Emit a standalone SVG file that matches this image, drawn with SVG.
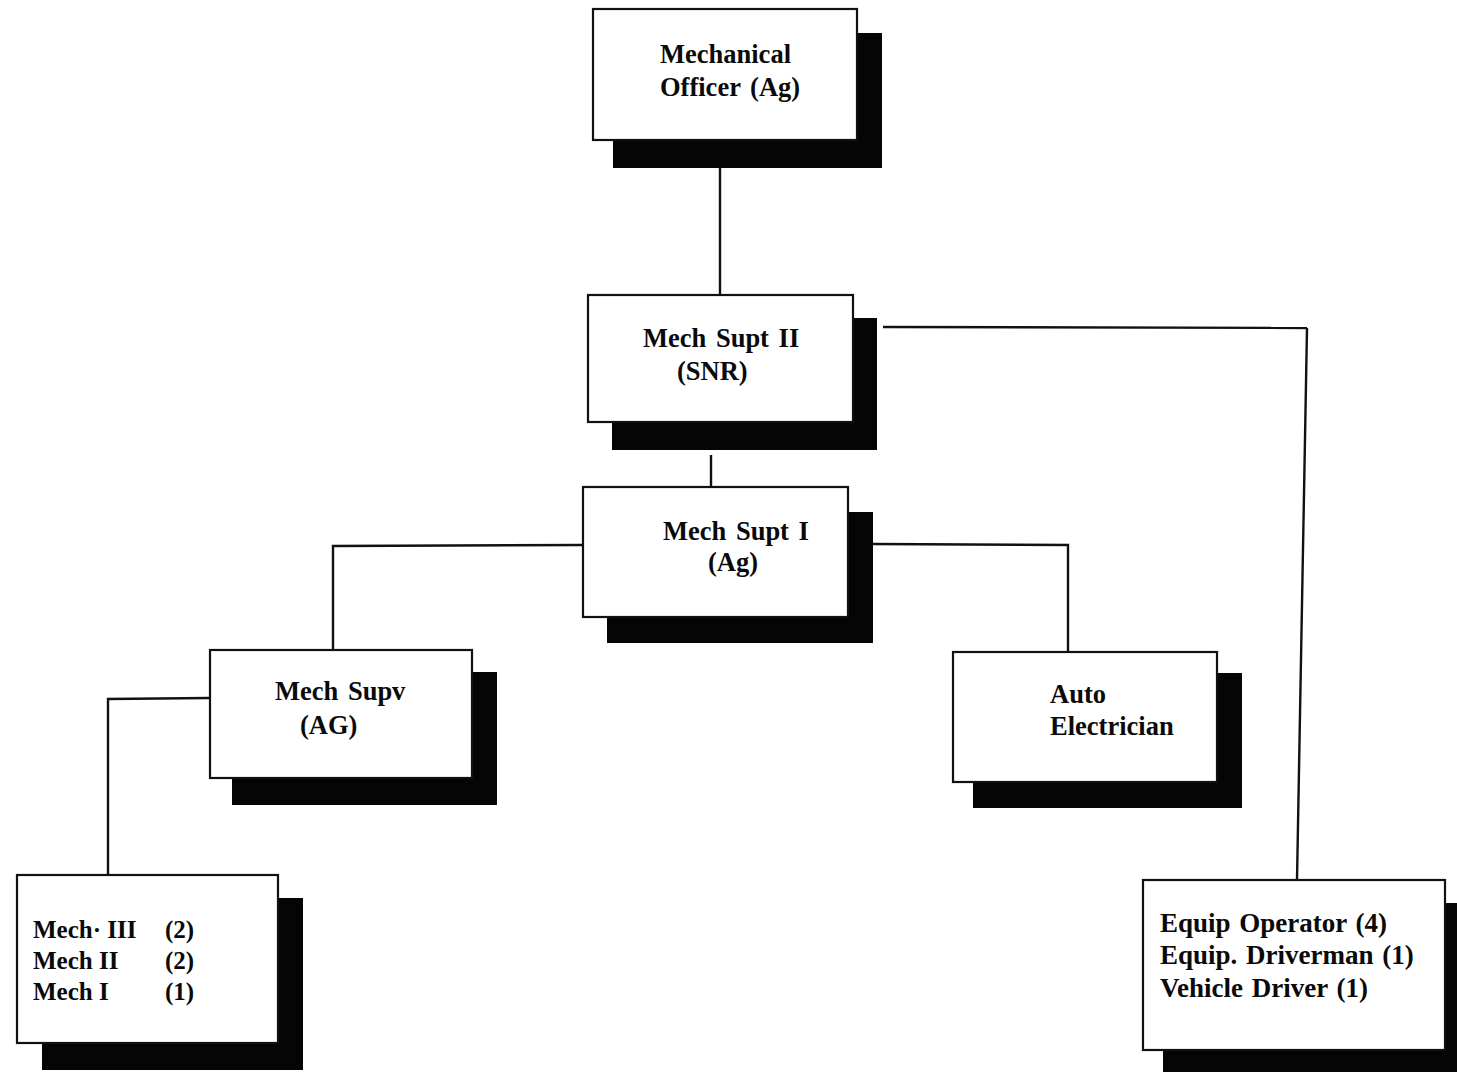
<svg xmlns="http://www.w3.org/2000/svg" width="1457" height="1072" viewBox="0 0 1457 1072">
  <style>
    .box { fill: #ffffff; stroke: #111111; stroke-width: 2.2; }
    .shadow { fill: #050505; }
    .label { font-family: "Liberation Serif", "Times New Roman", serif; font-weight: bold; font-size: 26.5px; word-spacing: 3px; fill: #0a0a0a; }
    .list { font-family: "Liberation Serif", "Times New Roman", serif; font-weight: bold; font-size: 25px; fill: #0a0a0a; }
    .wide { font-size: 27px; word-spacing: 2px; }
    .wire { fill: none; stroke: #111111; stroke-width: 2.4; }
  </style>
  <rect width="1457" height="1072" fill="#ffffff"/>

  <!-- reporting lines -->
  <g id="connectors">
    <line class="wire" x1="720" y1="168" x2="720" y2="295"/>
    <line class="wire" x1="711" y1="455" x2="711" y2="487"/>
    <polyline class="wire" points="883,327 1307,328"/>
    <polyline class="wire" points="1307,328 1297,880"/>
    <polyline class="wire" points="583,545 333,546 333,650"/>
    <polyline class="wire" points="873,544 1068,545 1068,652"/>
    <polyline class="wire" points="210,698 108,699 108,875"/>
  </g>

  <g id="mechanical-officer">
    <rect class="shadow" x="613" y="33" width="269" height="135"/>
    <rect class="box" x="593" y="9" width="264" height="131"/>
    <text class="label" x="660" y="63">Mechanical</text>
    <text class="label" x="660" y="96">Officer (Ag)</text>
  </g>

  <g id="mech-supt-2">
    <rect class="shadow" x="612" y="318" width="265" height="132"/>
    <rect class="box" x="588" y="295" width="265" height="127"/>
    <text class="label" x="643" y="347">Mech Supt II</text>
    <text class="label" x="677" y="380">(SNR)</text>
  </g>

  <g id="mech-supt-1">
    <rect class="shadow" x="607" y="512" width="266" height="131"/>
    <rect class="box" x="583" y="487" width="265" height="130"/>
    <text class="label" x="663" y="540">Mech Supt I</text>
    <text class="label" x="708" y="571">(Ag)</text>
  </g>

  <g id="mech-supv">
    <rect class="shadow" x="232" y="672" width="265" height="133"/>
    <rect class="box" x="210" y="650" width="262" height="128"/>
    <text class="label" x="275" y="700">Mech Supv</text>
    <text class="label" x="300" y="734">(AG)</text>
  </g>

  <g id="auto-electrician">
    <rect class="shadow" x="973" y="673" width="269" height="135"/>
    <rect class="box" x="953" y="652" width="264" height="130"/>
    <text class="label" x="1050" y="703">Auto</text>
    <text class="label" x="1050" y="735">Electrician</text>
  </g>

  <g id="mechanics">
    <rect class="shadow" x="42" y="898" width="261" height="172"/>
    <rect class="box" x="17" y="875" width="261" height="168"/>
    <text class="list" x="33" y="938">Mech· III</text>
    <text class="list" x="165" y="938">(2)</text>
    <text class="list" x="33" y="969">Mech II</text>
    <text class="list" x="165" y="969">(2)</text>
    <text class="list" x="33" y="1000">Mech I</text>
    <text class="list" x="165" y="1000">(1)</text>
  </g>

  <g id="operators">
    <rect class="shadow" x="1163" y="903" width="310" height="172"/>
    <rect class="box" x="1143" y="880" width="302" height="170"/>
    <text class="list wide" x="1160" y="932">Equip Operator (4)</text>
    <text class="list wide" x="1160" y="964">Equip. Driverman (1)</text>
    <text class="list wide" x="1160" y="997">Vehicle Driver (1)</text>
  </g>
</svg>
